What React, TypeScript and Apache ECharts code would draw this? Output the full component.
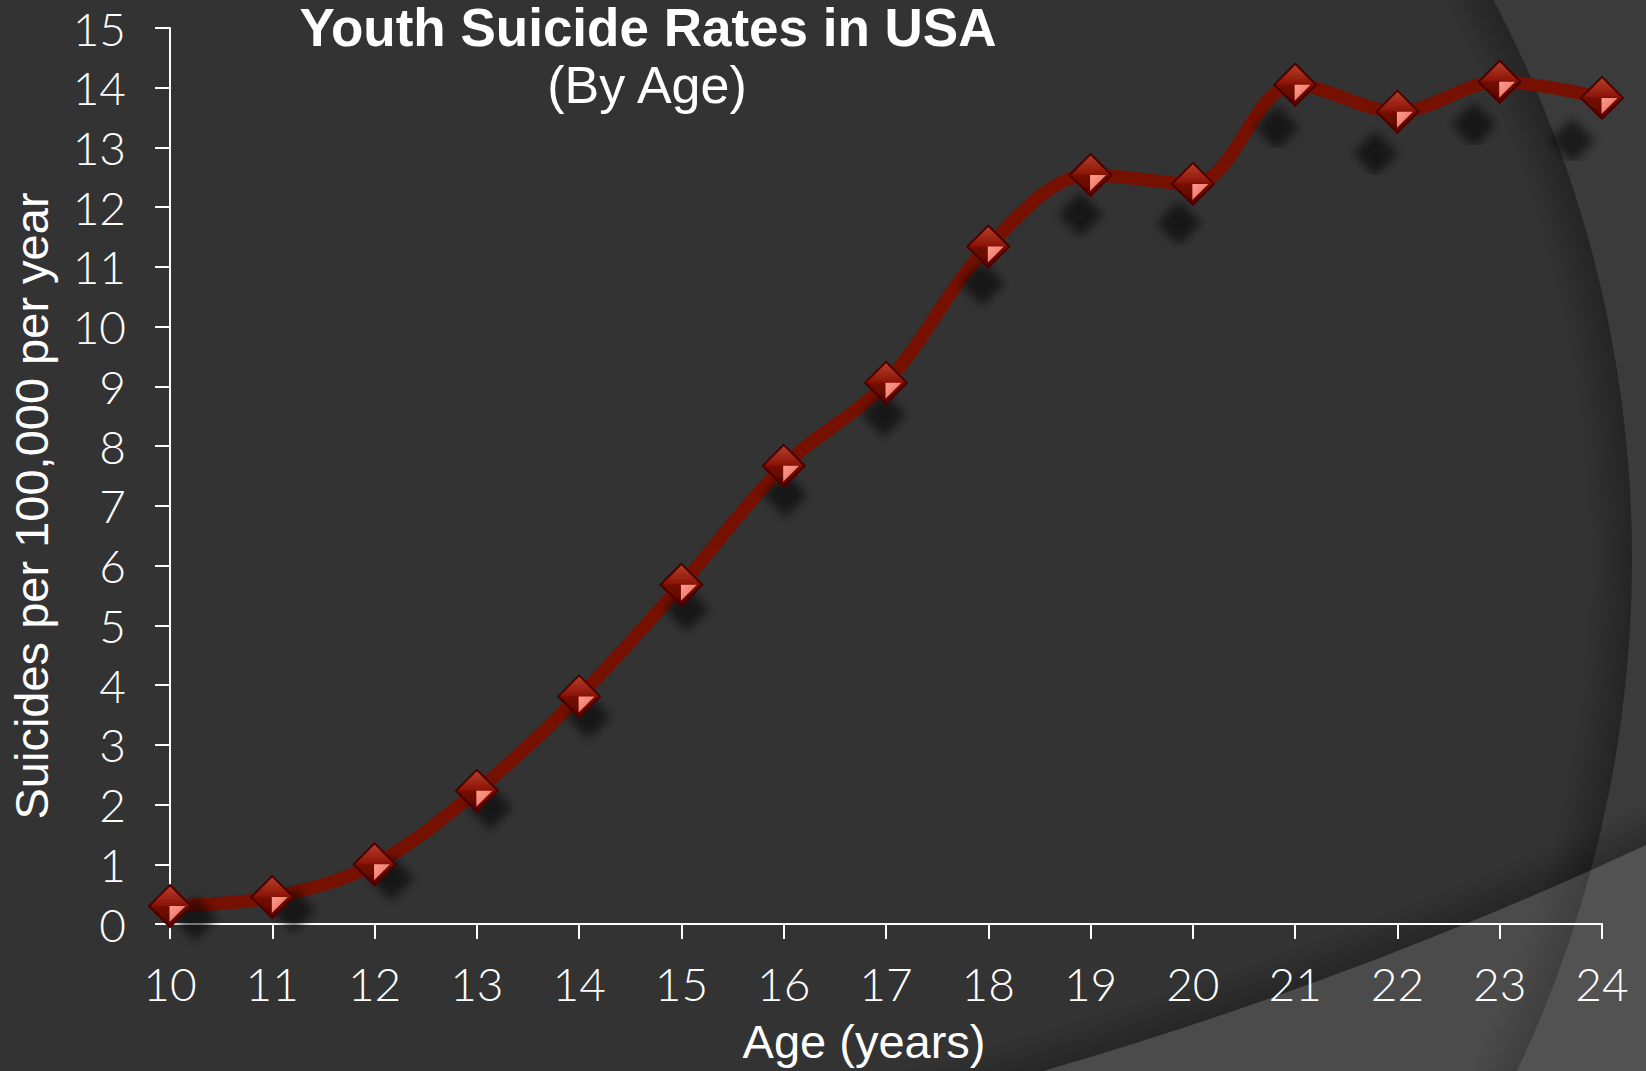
import React, { useEffect, useRef } from "react";
import * as echarts from "echarts";

// Ages on the horizontal axis and the suicide rate per 100,000 per year for each age
const ages: string[] = ["10", "11", "12", "13", "14", "15", "16", "17", "18", "19", "20", "21", "22", "23", "24"];
const rates: number[] = [0.3, 0.45, 1.0, 2.23, 3.81, 5.68, 7.67, 9.06, 11.34, 12.54, 12.39, 14.05, 13.6, 14.1, 13.83];

const chartTitle = "Youth Suicide Rates in USA";
const chartSubtitle = "(By Age)";
const xAxisName = "Age (years)";
const yAxisName = "Suicides per 100,000 per year";

const W = 1646;
const H = 1071;

const TICK_FONT = "'Lato', 'Open Sans', 'DejaVu Sans', sans-serif";
const TEXT_FONT = "'Liberation Sans', Arial, sans-serif";

// Background shapes: the dark panel bounded by an arc on the right,
// and a larger circle whose outside forms the light sweep at the bottom right
const PANEL = { cx: 436, cy: 559, r: 1196 };
const SWEEP = { cx: -127, cy: -2969, r: 4206 };

export default function App() {
  const ref = useRef<HTMLDivElement | null>(null);

  useEffect(() => {
    if (!ref.current) return;
    const chart = echarts.init(ref.current, undefined, { renderer: "svg", width: W, height: H });

    // Diamond markers: each casts a soft drop shadow that drifts with position and height
    const markerData = rates.map((v, i) => ({
      value: v,
      itemStyle: {
        shadowOffsetX: 25 - 3.9 * i,
        shadowOffsetY: 12 + 2.2 * v,
      },
    }));

    const edgeShade = (r: number, width: number, color: string) =>
      new echarts.graphic.RadialGradient(0.5, 0.5, 0.5, [
        { offset: 0, color: "rgba(0,0,0,0)" },
        { offset: (r - width) / r, color: "rgba(0,0,0,0)" },
        { offset: 1, color },
      ]);

    const option: echarts.EChartsOption = {
      animation: false,
      backgroundColor: "#3b3b3b",
      grid: {
        left: 170,
        right: W - 1602,
        top: 28,
        bottom: H - 924,
        containLabel: false,
        outerBoundsMode: "none",
      } as any,
      graphic: [
        {
          type: "circle",
          z: -100,
          silent: true,
          shape: { cx: PANEL.cx, cy: PANEL.cy, r: PANEL.r },
          style: { fill: "#333333" },
        },
        {
          // darker rim just inside the panel arc
          type: "circle",
          z: -99,
          silent: true,
          shape: { cx: PANEL.cx, cy: PANEL.cy, r: PANEL.r },
          style: { fill: edgeShade(PANEL.r, 45, "rgba(0,0,0,0.28)") },
        },
        {
          // darker rim along the top of the light sweep
          type: "ring",
          z: -98,
          silent: true,
          shape: { cx: SWEEP.cx, cy: SWEEP.cy, r: SWEEP.r, r0: SWEEP.r - 40 },
          style: { fill: edgeShade(SWEEP.r, 40, "rgba(0,0,0,0.25)") },
        },
        {
          type: "ring",
          z: -97,
          silent: true,
          shape: { cx: SWEEP.cx, cy: SWEEP.cy, r: SWEEP.r + 3000, r0: SWEEP.r },
          style: { fill: "rgba(255,255,255,0.122)" },
        },
        {
          type: "text",
          z: 10,
          silent: true,
          x: 648,
          y: 27,
          style: {
            text: chartTitle,
            fill: "#ffffff",
            font: `bold 53px ${TEXT_FONT}`,
            align: "center",
            verticalAlign: "middle",
          },
        },
        {
          type: "text",
          z: 10,
          silent: true,
          x: 647,
          y: 85,
          style: {
            text: chartSubtitle,
            fill: "#ffffff",
            font: `52px ${TEXT_FONT}`,
            align: "center",
            verticalAlign: "middle",
          },
        },
        {
          type: "text",
          z: 10,
          silent: true,
          x: 864,
          y: 1041,
          style: {
            text: xAxisName,
            fill: "#ffffff",
            font: `47px ${TEXT_FONT}`,
            align: "center",
            verticalAlign: "middle",
          },
        },
        {
          type: "text",
          z: 10,
          silent: true,
          x: 31,
          y: 506,
          rotation: Math.PI / 2,
          style: {
            text: yAxisName,
            fill: "#ffffff",
            font: `47px ${TEXT_FONT}`,
            align: "center",
            verticalAlign: "middle",
          },
        },
      ],
      xAxis: {
        type: "category",
        data: ages,
        boundaryGap: false,
        axisLine: { lineStyle: { color: "#ffffff", width: 2 } },
        axisTick: { show: true, length: 15, alignWithLabel: true, lineStyle: { color: "#ffffff", width: 2 } },
        axisLabel: {
          color: "#ffffff",
          fontFamily: TICK_FONT,
          fontWeight: 300,
          fontSize: 46,
          margin: 36,
          interval: 0,
        },
        splitLine: { show: false },
      },
      yAxis: {
        type: "value",
        min: 0,
        max: 15,
        interval: 1,
        axisLine: { show: true, lineStyle: { color: "#ffffff", width: 2 } },
        axisTick: { show: true, length: 15, lineStyle: { color: "#ffffff", width: 2 } },
        axisLabel: {
          color: "#ffffff",
          fontFamily: TICK_FONT,
          fontWeight: 300,
          fontSize: 46,
          margin: 44,
        },
        splitLine: { show: false },
      },
      series: [
        {
          name: "rate",
          type: "line",
          data: markerData,
          smooth: 0.35,
          z: 3,
          lineStyle: { color: "#761000", width: 13, cap: "round", join: "round" },
          symbol: "diamond",
          symbolSize: 42,
          showAllSymbol: true,
          itemStyle: {
            color: new echarts.graphic.LinearGradient(0, 0, 0, 1, [
              { offset: 0, color: "#b8402c" },
              { offset: 0.45, color: "#8e1709" },
              { offset: 0.55, color: "#6f0900" },
              { offset: 1, color: "#5c0400" },
            ]),
            borderColor: "#4a0300",
            borderWidth: 2,
            shadowBlur: 10,
            shadowColor: "rgba(0,0,0,0.55)",
          },
          emphasis: { disabled: true },
        },
        {
          // bright lower-right facet of each diamond marker
          name: "facet",
          type: "line",
          data: rates,
          z: 4,
          silent: true,
          lineStyle: { width: 0, opacity: 0 },
          symbol: "path://M0,0L10,0L0,10Z",
          symbolSize: 16,
          symbolOffset: [7.5, 8],
          showAllSymbol: true,
          itemStyle: {
            color: new echarts.graphic.LinearGradient(0, 0, 1, 1, [
              { offset: 0, color: "#ff9d8e" },
              { offset: 1, color: "#e0665a" },
            ]),
            borderWidth: 0,
          },
          emphasis: { disabled: true },
        },
      ],
    };

    chart.setOption(option);
    return () => {
      chart.dispose();
    };
  }, []);

  return (
    <div
      ref={ref}
      style={{ position: "fixed", left: 0, top: 0, width: W, height: H, overflow: "hidden" }}
    />
  );
}
